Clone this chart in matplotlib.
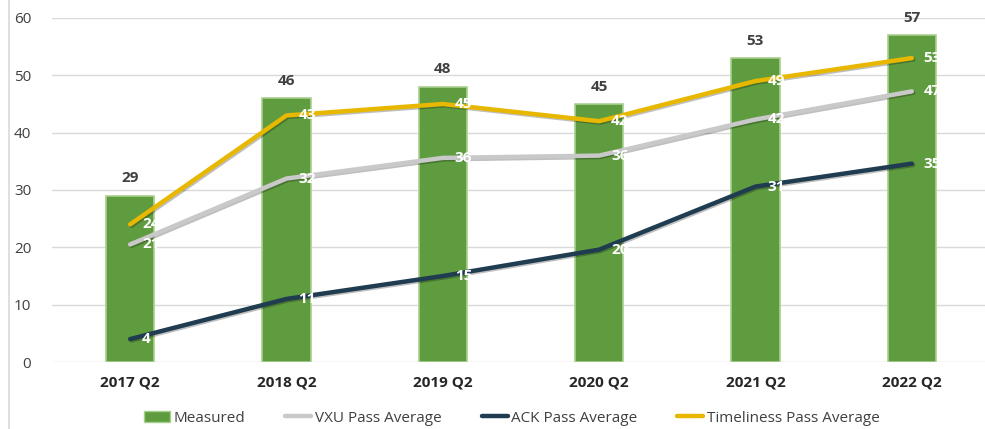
import matplotlib
matplotlib.use("Agg")
import matplotlib.pyplot as plt
import matplotlib.patheffects as pe
from matplotlib.lines import Line2D
import numpy as np

plt.rcParams['font.family'] = ['Open Sans', 'DejaVu Sans']

categories = ["2017 Q2", "2018 Q2", "2019 Q2", "2020 Q2", "2021 Q2", "2022 Q2"]
measured = [29, 46, 48, 45, 53, 57]
vxu = [20.5, 32, 35.6, 36, 42.3, 47.2]
ack = [4, 11, 15, 19.6, 30.6, 34.6]
timeliness = [24, 43, 45, 42, 49, 53]
vxu_labels = ["21", "32", "36", "36", "42", "47"]
ack_labels = ["4", "11", "15", "20", "31", "35"]
time_labels = ["24", "43", "45", "42", "49", "53"]

W, H = 985, 429
fig = plt.figure(figsize=(W / 100, H / 100), dpi=100)
ax = fig.add_axes([52 / W, (H - 362) / H, 938 / W, 344 / H])

x = np.arange(len(categories))
green = "#5f9c40"
ax.bar(x, measured, width=0.31, color=green, edgecolor="#a8d08d", linewidth=1.2, zorder=2)
for xi, v in zip(x, measured):
    ax.text(xi, v + 1.8, str(v), ha="center", va="bottom", fontsize=11,
            fontweight="bold", color="#404040")

shadow = [pe.SimpleLineShadow(offset=(1, -1), alpha=0.25), pe.Normal()]
ax.plot(x, vxu, color="#c9c9c9", lw=3.2, solid_capstyle="round", solid_joinstyle="round",
        zorder=3, path_effects=shadow)
ax.plot(x, ack, color="#1f3c51", lw=3.2, solid_capstyle="round", solid_joinstyle="round",
        zorder=3, path_effects=shadow)
ax.plot(x, timeliness, color="#e8b800", lw=3.2, solid_capstyle="round", solid_joinstyle="round",
        zorder=3, path_effects=shadow)

for vals, labs in [(vxu, vxu_labels), (ack, ack_labels), (timeliness, time_labels)]:
    for xi, v, lab in zip(x, vals, labs):
        ax.annotate(lab, (xi, v), xytext=(8.5, 0), textcoords="offset points",
                    ha="left", va="center", fontsize=11, fontweight="bold",
                    color="white", zorder=4)

ax.set_xlim(-0.5, len(categories) - 0.5)
ax.set_ylim(0, 60)
ax.set_yticks(range(0, 61, 10))
ax.set_xticks(x)
ax.set_xticklabels(categories, fontsize=11, fontweight="bold", color="#262626")
ax.tick_params(axis="y", labelsize=11, labelcolor="#404040", length=0, pad=15)
ax.tick_params(axis="x", length=0, pad=10)
ax.grid(axis="y", color="#d9d9d9", lw=1, zorder=0)
ax.set_axisbelow(True)
for s in ax.spines.values():
    s.set_visible(False)

handles = [
    plt.Rectangle((0, 0), 1, 1, facecolor=green, edgecolor="#a8d08d"),
    Line2D([], [], color="#c9c9c9", lw=3.2, solid_capstyle="round"),
    Line2D([], [], color="#1f3c51", lw=3.2, solid_capstyle="round"),
    Line2D([], [], color="#e8b800", lw=3.2, solid_capstyle="round"),
]
labels = ["Measured", "VXU Pass Average", "ACK Pass Average", "Timeliness Pass Average"]
fig.legend(handles, labels, loc="center", bbox_to_anchor=(512 / W, (H - 418) / H),
           ncol=4, frameon=False, fontsize=11, handlelength=1.7, handletextpad=0.25,
           columnspacing=2.6, labelcolor="#404040")

fig.add_artist(Line2D([8.5 / W, 8.5 / W], [0, 1], color="#d9d9d9", lw=1.2))

fig.savefig("out.png", dpi=100)
